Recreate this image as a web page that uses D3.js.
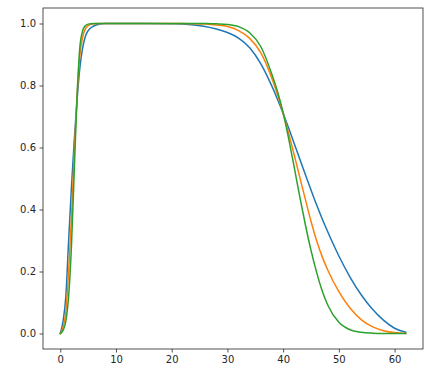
<!DOCTYPE html>
<html>
<head>
<meta charset="utf-8">
<script src="https://cdn.jsdelivr.net/npm/d3@7"></script>
<style>
  html, body { margin: 0; padding: 0; background: #fff; }
  svg { display: block; }
  .tick text { font-family: "DejaVu Sans", sans-serif; font-size: 10px; fill: #262626; }
</style>
</head>
<body>
<svg id="chart" width="441" height="375"></svg>
<script>
const xValues = [0,0.5,1,1.5,2,2.5,3,3.5,4,4.5,5,6,7,8,10,15,20,22,24,26,28,30,32,34,36,38,39,40,41,42,43,44,45,46,47,48,50,52,54,56,58,60,62];

const blueValues = [0,0.04,0.12,0.30,0.47,0.62,0.75,0.855,0.92,0.958,0.977,0.992,0.998,1,1,1,0.999,0.998,0.995,0.99,0.982,0.971,0.953,0.922,0.87,0.797,0.755,0.71,0.662,0.612,0.562,0.512,0.463,0.415,0.37,0.328,0.25,0.182,0.125,0.079,0.043,0.017,0.004];

const orangeValues = [0,0.02,0.07,0.2,0.37,0.58,0.76,0.895,0.955,0.982,0.993,0.999,1,1,1,1,1,1,0.999,0.998,0.995,0.99,0.977,0.952,0.905,0.822,0.77,0.71,0.645,0.575,0.503,0.432,0.362,0.3,0.248,0.205,0.135,0.082,0.045,0.022,0.009,0.003,0];

const greenValues = [0,0.01,0.04,0.12,0.28,0.52,0.76,0.92,0.975,0.993,0.998,1,1,1,1,1,1,1,1,1,0.999,0.997,0.99,0.97,0.925,0.835,0.78,0.712,0.628,0.535,0.44,0.35,0.268,0.198,0.138,0.092,0.036,0.012,0.004,0.001,0,0,0];

const seriesNames = ["blue", "orange", "green"];
const seriesColors = ["#1f77b4", "#ff7f0e", "#2ca02c"];
const xTicks = [0,10,20,30,40,50,60];
const yTicks = [0,0.2,0.4,0.6,0.8,1.0];

const series = [blueValues, orangeValues, greenValues];

const mLeft = 43, mRight = 423, mTop = 8, mBottom = 349;
const svg = d3.select("#chart");

const x = d3.scaleLinear().domain([-3.1, 65.1]).range([mLeft, mRight]);
const y = d3.scaleLinear().domain([-0.05, 1.05]).range([mBottom, mTop]);

const line = d3.line()
  .x((d, i) => x(xValues[i]))
  .y(d => y(d))
  .curve(d3.curveMonotoneX);

svg.append("clipPath").attr("id", "clip")
  .append("rect").attr("x", mLeft).attr("y", mTop)
  .attr("width", mRight - mLeft).attr("height", mBottom - mTop);

const g = svg.append("g").attr("clip-path", "url(#clip)");
series.forEach((vals, k) => {
  g.append("path")
    .datum(vals)
    .attr("fill", "none")
    .attr("stroke", seriesColors[k])
    .attr("stroke-width", 1.5)
    .attr("stroke-linejoin", "round")
    .attr("stroke-linecap", "square")
    .attr("d", line);
});

const xAxis = d3.axisBottom(x).tickValues(xTicks).tickFormat(d3.format("d"))
  .tickSize(3.5).tickPadding(3.5).tickSizeOuter(0);
const yAxis = d3.axisLeft(y).tickValues(yTicks).tickFormat(d3.format(".1f"))
  .tickSize(3.5).tickPadding(3.5).tickSizeOuter(0);

const gx = svg.append("g").attr("transform", `translate(0,${mBottom})`).call(xAxis);
const gy = svg.append("g").attr("transform", `translate(${mLeft},0)`).call(yAxis);
[gx, gy].forEach(a => {
  a.select(".domain").remove();
  a.selectAll(".tick line").attr("stroke", "#262626").attr("stroke-width", 0.8);
});
gx.selectAll(".tick text").attr("dy", "0.71em");

svg.append("rect")
  .attr("x", mLeft).attr("y", mTop)
  .attr("width", mRight - mLeft).attr("height", mBottom - mTop)
  .attr("fill", "none").attr("stroke", "#262626").attr("stroke-width", 0.8);
</script>
</body>
</html>
